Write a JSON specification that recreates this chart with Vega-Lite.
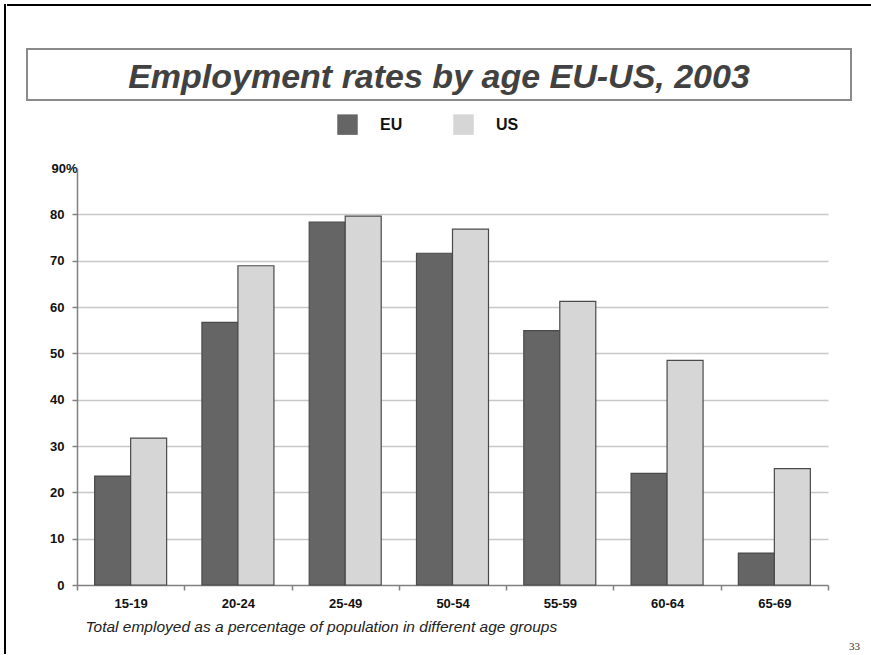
{
  "$schema": "https://vega.github.io/schema/vega-lite/v6.json",
  "background": "white",
  "padding": {"left": 4, "top": 4, "right": 0, "bottom": 0},
  "config": {
    "view": {"stroke": null},
    "font": "Liberation Sans"
  },
  "spacing": 0,
  "resolve": {"scale": {"color": "independent"}, "legend": {"color": "independent"}},
  "hconcat": [
    {
      "width": 0.01,
      "height": 648,
      "data": {"values": []},
      "mark": "point",
      "encoding": {},
      "view": {"stroke": "#000000", "strokeWidth": 2}
    },
    {
      "spacing": 41,
      "resolve": {"scale": {"color": "independent"}, "legend": {"color": "independent"}},
      "vconcat": [
        {
          "width": 862,
          "height": 0.01,
          "data": {"values": []},
          "mark": "point",
          "encoding": {},
          "view": {"stroke": "#000000", "strokeWidth": 2}
        },
        {
          "spacing": 13,
          "resolve": {"scale": {"color": "independent"}, "legend": {"color": "independent"}},
          "vconcat": [
            {
              "spacing": 17,
              "hconcat": [
                {"width": 0.01, "height": 51, "data": {"values": []}, "mark": "point", "encoding": {}},
                {
                  "width": 824,
                  "height": 51,
                  "view": {"stroke": "#8a8a8a", "strokeWidth": 2},
                  "data": {"values": [{"heading": "Employment rates by age EU-US, 2003"}]},
                  "mark": {"type": "text", "font": "Liberation Sans", "fontSize": 34, "fontStyle": "italic", "fontWeight": "bold", "color": "#414141", "dy": 3},
                  "encoding": {"text": {"field": "heading"}}
                }
              ]
            },
            {
              "spacing": 40,
              "resolve": {"scale": {"color": "independent"}, "legend": {"color": "independent"}},
              "hconcat": [
                {"width": 0.01, "height": 1, "data": {"values": []}, "mark": "point", "encoding": {}},
                {
                  "width": 751,
                  "height": 417,
                  "title": {"text": "33", "orient": "bottom", "anchor": "end", "frame": "group", "font": "Liberation Serif", "fontSize": 11, "fontWeight": "normal", "color": "#333333", "dx": 32, "offset": 6},
                  "data": {
                    "values": [
                      {"age": "15-19", "region": "EU", "value": 23.5},
                      {"age": "15-19", "region": "US", "value": 31.7},
                      {"age": "20-24", "region": "EU", "value": 56.7},
                      {"age": "20-24", "region": "US", "value": 68.9},
                      {"age": "25-49", "region": "EU", "value": 78.3},
                      {"age": "25-49", "region": "US", "value": 79.6},
                      {"age": "50-54", "region": "EU", "value": 71.6},
                      {"age": "50-54", "region": "US", "value": 76.8},
                      {"age": "55-59", "region": "EU", "value": 54.9},
                      {"age": "55-59", "region": "US", "value": 61.2},
                      {"age": "60-64", "region": "EU", "value": 24.1},
                      {"age": "60-64", "region": "US", "value": 48.5},
                      {"age": "65-69", "region": "EU", "value": 6.9},
                      {"age": "65-69", "region": "US", "value": 25.1}
                    ]
                  },
                  "mark": {"type": "bar", "stroke": "#4a4a4a", "strokeWidth": 1.2},
                  "encoding": {
                    "x": {
                      "field": "age",
                      "type": "nominal",
                      "sort": null,
                      "scale": {"paddingInner": 0, "paddingOuter": 0},
                      "axis": {
                        "labelAngle": 0,
                        "labelFontWeight": "bold",
                        "labelFontSize": 13,
                        "labelColor": "#111111",
                        "labelPadding": 7,
                        "tickBand": "extent",
                        "tickSize": 5,
                        "tickColor": "#808080",
                        "tickWidth": 1.5,
                        "domainColor": "#808080",
                        "domainWidth": 1.5,
                        "grid": false,
                        "title": "Total employed as a percentage of population in different age groups",
                        "titleFontStyle": "italic",
                        "titleFontWeight": "normal",
                        "titleFontSize": 15.5,
                        "titleColor": "#222222",
                        "titleAnchor": "start",
                        "titleAlign": "left",
                        "titleX": 8,
                        "titlePadding": 9
                      }
                    },
                    "xOffset": {"field": "region", "sort": ["EU", "US"], "scale": {"paddingOuter": 0.49, "paddingInner": 0}},
                    "y": {
                      "field": "value",
                      "type": "quantitative",
                      "scale": {"domain": [0, 90], "nice": false},
                      "axis": {
                        "title": null,
                        "values": [0, 10, 20, 30, 40, 50, 60, 70, 80, 90],
                        "labelExpr": "datum.value === 90 ? '90%' : datum.label",
                        "labelAlign": {"condition": {"test": "datum.value === 90", "value": "center"}, "value": "right"},
                        "labelFontWeight": "bold",
                        "labelFontSize": 13,
                        "labelColor": "#111111",
                        "labelPadding": 8,
                        "tickSize": 5,
                        "tickWidth": 1.5,
                        "tickColor": {"condition": {"test": "datum.value === 90", "value": "transparent"}, "value": "#808080"},
                        "domainColor": "#808080",
                        "domainWidth": 1.5,
                        "grid": true,
                        "gridWidth": 1.5,
                        "gridColor": {"condition": {"test": "datum.value === 90 || datum.value === 0", "value": "transparent"}, "value": "#c8c8c8"}
                      }
                    },
                    "color": {
                      "field": "region",
                      "type": "nominal",
                      "scale": {"domain": ["EU", "US"], "range": ["#656565", "#d6d6d6"]},
                      "legend": {
                        "title": null,
                        "orient": "none",
                        "direction": "horizontal",
                        "legendX": 260,
                        "legendY": -54,
                        "padding": 0,
                        "symbolType": "square",
                        "symbolSize": 420,
                        "symbolStrokeWidth": 0,
                        "symbolOpacity": 1,
                        "labelFontSize": 16,
                        "labelFontWeight": "bold",
                        "labelColor": "#111111",
                        "labelOffset": 22,
                        "columnPadding": 50
                      }
                    }
                  }
                }
              ]
            }
          ]
        }
      ]
    }
  ]
}
